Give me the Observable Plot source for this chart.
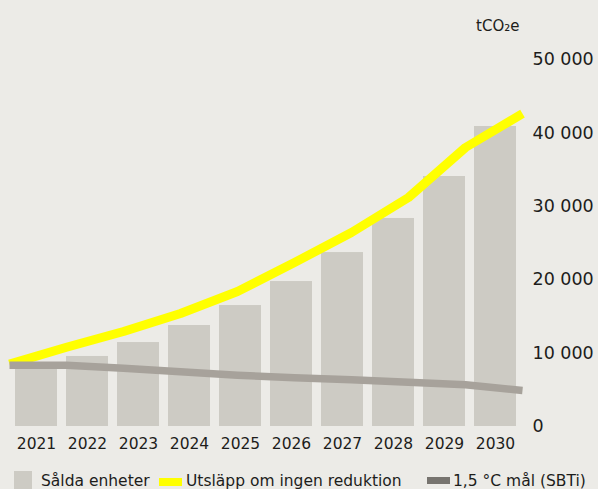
<!DOCTYPE html>
<html>
<head>
<meta charset="utf-8">
<script src="https://cdn.jsdelivr.net/npm/d3@7"></script>
<script src="https://cdn.jsdelivr.net/npm/@observablehq/plot@0.6"></script>
<style>
  html, body { margin: 0; padding: 0; background: #ecebe7; }
  body { font-family: "DejaVu Sans", sans-serif; color: #1d1d1b; width: 598px; height: 489px; overflow: hidden; }
  #wrap { position: relative; width: 598px; height: 462px; }
  #wrap svg { position: absolute; left: 0; top: 0; }
  #legend { position: relative; width: 598px; height: 27px; font-size: 15.5px; }
  #legend .item { position: absolute; top: 0; height: 27px; }
  #legend .sw { position: absolute; }
  #legend .lab { position: absolute; top: 10.5px; line-height: 16px; white-space: nowrap; }
</style>
</head>
<body>
<div id="wrap"></div>
<div id="legend"></div>
<script>
// ---- data ----
const years = [2021, 2022, 2023, 2024, 2025, 2026, 2027, 2028, 2029, 2030];
const soldUnits = [8200, 9540, 11440, 13760, 16480, 19750, 23700, 28340, 34060, 40870];
const noReduction = [8500, 10800, 12940, 15400, 18390, 22340, 26430, 31200, 38010, 42640];
const target15 = [8350, 8350, 7940, 7450, 6990, 6630, 6360, 6030, 5680, 4900];
const yTicks = [0, 10000, 20000, 30000, 40000, 50000];
const unitLabel = "tCO₂e";
const seriesNames = ["Sålda enheter", "Utsläpp om ingen reduktion", "1,5 °C mål (SBTi)"];
const colors = { bar: "#cdcbc4", yellow: "#ffff00", grey: "#a7a29b", greySwatch: "#77746f", text: "#1d1d1b" };

// ---- shared layout ----
const W = 598, H = 462;
const margins = { marginLeft: 8, marginRight: 75, marginTop: 59, marginBottom: 36 };
const yScale = { domain: [0, 50000] };
const fmt = d => d3.format(",")(d).replace(/,/g, " ");
const style = { background: "transparent", fontFamily: "'DejaVu Sans', sans-serif", color: colors.text, overflow: "visible" };

const barData = years.map((y, i) => ({ year: y, value: soldUnits[i] }));
const yellowData = years.map((y, i) => ({ year: y, value: noReduction[i] }));
const greyData = years.map((y, i) => ({ year: y, value: target15[i] }));

// Bars + axes
const base = Plot.plot({
  width: W, height: H, ...margins, style,
  x: { type: "band", domain: years, paddingInner: 0.186, paddingOuter: 0.093 },
  y: yScale,
  marks: [
    Plot.barY(barData, { x: "year", y: "value", fill: colors.bar }),
    Plot.axisX({ tickSize: 0, tickPadding: 11, fontSize: 15.5, label: null, tickFormat: d => String(d) }),
    Plot.axisY({ anchor: "right", ticks: yTicks, tickSize: 0, tickPadding: 9, fontSize: 17.5, label: null, tickFormat: fmt }),
    Plot.text([unitLabel], { text: d => d, frameAnchor: "top-right", textAnchor: "end", dx: -4, dy: -39, fontSize: 15, fill: colors.text })
  ]
});

// Lines overlay (point scale across full width)
const lines = Plot.plot({
  width: W, height: H, ...margins, style,
  x: { type: "point", domain: years, padding: 0, axis: null },
  y: { ...yScale, axis: null },
  marks: [
    Plot.line(yellowData, { x: "year", y: "value", stroke: colors.yellow, strokeWidth: 9, strokeLinecap: "butt", strokeLinejoin: "round" }),
    Plot.line(greyData, { x: "year", y: "value", stroke: colors.grey, strokeWidth: 7.5, strokeLinecap: "butt", strokeLinejoin: "round" })
  ]
});

const wrap = document.getElementById("wrap");
wrap.append(base, lines);

// Legend
const legend = d3.select("#legend");
const items = [
  { name: seriesNames[0], x: 14, sw: { left: 0, top: 9, w: 18, h: 18, c: colors.bar }, labX: 27 },
  { name: seriesNames[1], x: 159, sw: { left: 0, top: 16, w: 23, h: 8, c: colors.yellow }, labX: 27 },
  { name: seriesNames[2], x: 427, sw: { left: 0, top: 15, w: 23, h: 7, c: colors.greySwatch }, labX: 26 }
];
items.forEach(it => {
  const g = legend.append("div").attr("class", "item").style("left", it.x + "px");
  g.append("div").attr("class", "sw")
    .style("left", it.sw.left + "px").style("top", it.sw.top + "px")
    .style("width", it.sw.w + "px").style("height", it.sw.h + "px")
    .style("background", it.sw.c);
  g.append("span").attr("class", "lab").style("left", it.labX + "px").text(it.name);
});
</script>
</body>
</html>
